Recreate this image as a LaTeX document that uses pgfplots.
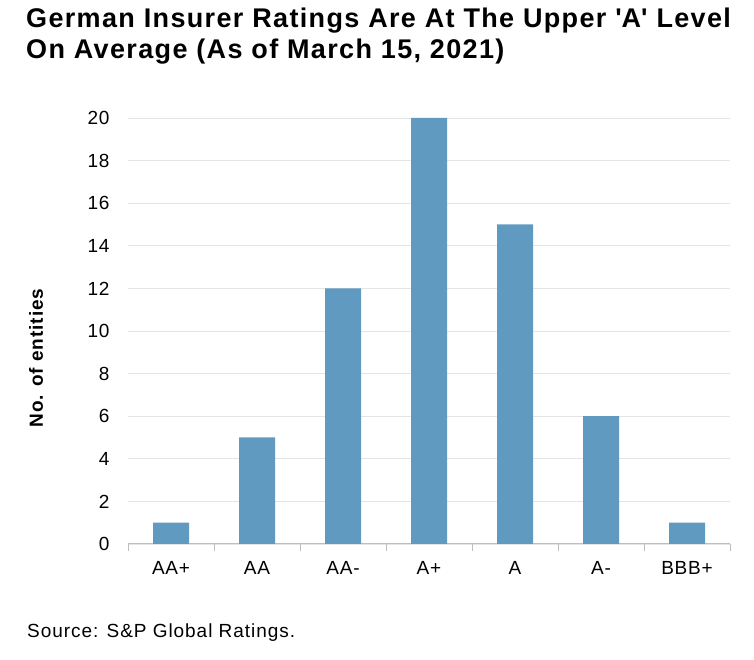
\documentclass[border=0pt]{standalone}
\usepackage{pgfplots}
\pgfplotsset{compat=1.18}
\usepackage{fontspec}
\setmainfont{Liberation Sans}
\definecolor{barblue}{RGB}{97,154,193}
\definecolor{axisgray}{RGB}{190,190,190}
\definecolor{gridgray}{RGB}{228,228,228}
\begin{document}
\begin{tikzpicture}
\useasboundingbox (0pt,0pt) rectangle (754pt,660pt);
% title
\node[anchor=north west, align=left, inner sep=0pt,
      font=\fontsize{27}{31}\selectfont\bfseries\addfontfeature{LetterSpace=5}]
  at (26pt,652pt) {German Insurer Ratings Are At The Upper \textquotesingle A\textquotesingle\ Level\\On Average (As of March 15, 2021)};
% y label
\node[rotate=90, font=\fontsize{19}{22}\selectfont\bfseries\addfontfeature{LetterSpace=5}] at (36pt,302pt) {No. of entities};
% source
\node[anchor=west, inner sep=0pt, font=\fontsize{19}{22}\selectfont\addfontfeature{LetterSpace=5}] at (27pt,27pt) {Source: S\&P Global Ratings.};
\begin{axis}[
    at={(128pt,116pt)}, anchor=south west,
    scale only axis, width=602pt, height=426pt,
    ymin=0, ymax=20, ytick={0,2,...,20},
    xmin=-0.5, xmax=6.5,
    xtick={-0.5,0.5,...,6.5},
    x tick label as interval,
    xticklabels={AA+,AA,AA-,A+,A,A-,BBB+},
    axis x line*=bottom,
    axis y line*=left,
    y axis line style={draw=none},
    x axis line style={axisgray, line width=1pt, -},
    xtick style={axisgray, line width=1pt},
    xtick align=outside, major tick length=7pt,
    ytick style={draw=none},
    ymajorgrids, grid style={gridgray, line width=0.8pt},
    tick label style={font=\fontsize{19}{22}\selectfont\addfontfeature{LetterSpace=4}},
    yticklabel style={xshift=-15pt},
    xticklabel style={yshift=-7pt},
    /pgf/number format/assume math mode=true,
]
\addplot[ybar, bar width=36pt, fill=barblue, draw=none] coordinates {
    (0,1) (1,5) (2,12) (3,20) (4,15) (5,6) (6,1)
};
\end{axis}
\end{tikzpicture}
\end{document}
